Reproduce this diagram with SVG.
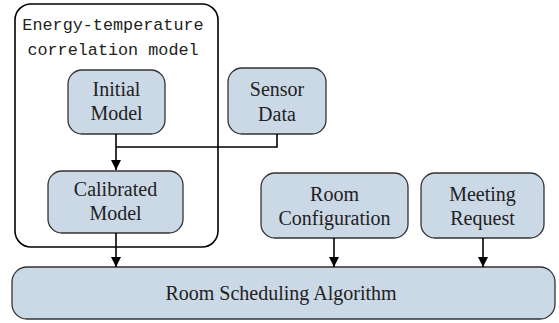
<svg xmlns="http://www.w3.org/2000/svg" width="559" height="323" viewBox="0 0 559 323">
<defs>
<marker id="ah" markerWidth="10" markerHeight="10" refX="10" refY="5" orient="auto" markerUnits="userSpaceOnUse">
<path d="M0,0 L10,5 L0,10 z" fill="#000"/>
</marker>
<style>
.box{fill:#cbd8e6;stroke:#333;stroke-width:1.3}
.ln{fill:none;stroke:#000;stroke-width:1.6}
</style>
</defs>
<rect width="559" height="323" fill="#fff"/>
<g id="container" font-family="Liberation Mono, monospace" font-size="16.8" fill="#222" text-anchor="middle">
<rect x="15" y="4" width="203" height="243" rx="16" fill="none" stroke="#000" stroke-width="1.6"/>
<text x="113" y="30">Energy-temperature</text>
<text x="113" y="55">correlation model</text>
</g>
<g font-family="Liberation Serif, serif" font-size="20" fill="#222" text-anchor="middle">
<g id="initial-model">
<rect class="box" x="68" y="70" width="97" height="64" rx="14"/>
<text x="116.5" y="96">Initial</text>
<text x="116.5" y="120">Model</text>
</g>
<g id="sensor-data">
<rect class="box" x="228" y="68" width="98" height="66" rx="14"/>
<text x="277" y="96">Sensor</text>
<text x="277" y="121">Data</text>
</g>
<g id="calibrated-model">
<rect class="box" x="48" y="171" width="135" height="62" rx="14"/>
<text x="115.5" y="196">Calibrated</text>
<text x="115.5" y="220">Model</text>
</g>
<g id="room-configuration">
<rect class="box" x="261" y="173" width="147" height="65" rx="14"/>
<text x="334.5" y="201">Room</text>
<text x="334.5" y="225">Configuration</text>
</g>
<g id="meeting-request">
<rect class="box" x="421" y="173" width="123" height="65" rx="14"/>
<text x="482.5" y="201">Meeting</text>
<text x="482.5" y="225">Request</text>
</g>
<g id="room-scheduling">
<rect class="box" x="12" y="267" width="543" height="52" rx="15"/>
<text x="281" y="300">Room Scheduling Algorithm</text>
</g>
</g>
<g id="connectors">
<path class="ln" d="M116,134 V170" marker-end="url(#ah)"/>
<path class="ln" d="M277,134 V147 H116"/>
<path class="ln" d="M116,233 V267" marker-end="url(#ah)"/>
<path class="ln" d="M334,238 V267" marker-end="url(#ah)"/>
<path class="ln" d="M483,238 V267" marker-end="url(#ah)"/>
</g>
</svg>
